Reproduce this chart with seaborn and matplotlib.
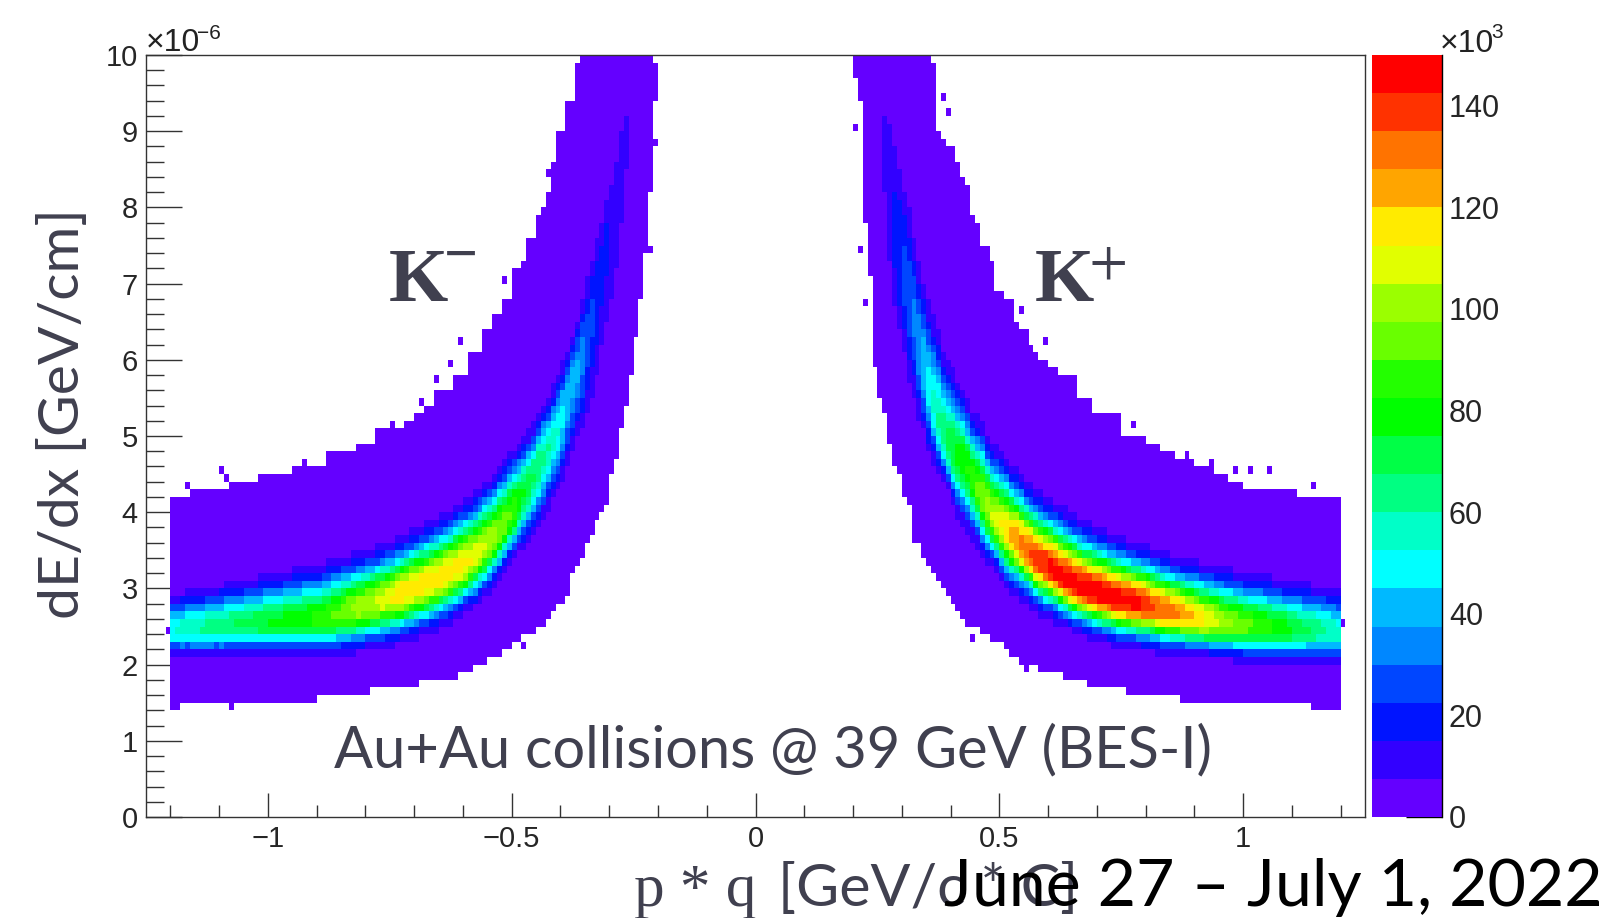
#!/usr/bin/env python3
# dE/dx vs p*q for kaons, histogram
import numpy as np
import seaborn as sns
import matplotlib
matplotlib.use('Agg')
import matplotlib.pyplot as plt
from matplotlib.colors import ListedColormap

W, H = 1613, 918

# 0.01 wide columns, |p*q| = 0.205 ... 1.195, values in 1e-6
left_env_top = [9.9] + [10.0]*15 + [9.9, 9.4, 9.4, 9.0, 9.0, 8.6, 8.2, 8.0, 7.9, 7.6, 7.6, 7.3, 7.2, 7.2, 6.8, 6.8, 6.6, 6.6, 6.4, 6.4, 6.1, 6.1, 6.1,
    5.8, 5.8, 5.8, 5.6, 5.6, 5.6, 5.6, 5.4, 5.4, 5.3, 5.3, 5.2, 5.2, 5.1, 5.1, 5.1, 5.1, 5.1, 5.1, 4.9, 4.9, 4.9, 4.9] + [4.8]*6 + [4.6]*7 + [4.5]*7 + [4.4]*5 + [4.3]*9 + [4.2]*4
left_env_bot = [9.4, 8.2, 7.4, 6.8, 6.3, 5.8, 5.4, 5.1, 4.7, 4.5, 4.1, 4.0, 3.9, 3.7, 3.6, 3.4, 3.3, 3.2, 2.9, 2.8, 2.8, 2.7, 2.6, 2.5, 2.5, 2.4, 2.4, 2.4, 2.3, 2.3, 2.2, 2.2,
    2.1, 2.1, 2.1, 2.0, 2.0, 2.0, 2.0, 1.9, 1.9] + [1.8]*8 + [1.7]*10 + [1.6]*11 + [1.5]*28 + [1.4]*2
right_env_top = [10.0]*16 + [9.9, 9.0, 8.9, 8.8, 8.8, 8.6, 8.4, 8.3, 7.9, 7.8, 7.5, 7.5, 7.3, 6.9, 6.9, 6.8, 6.8, 6.5, 6.4, 6.4, 6.2, 6.1, 6.0, 6.0, 5.9, 5.9,
    5.8, 5.8, 5.8, 5.8, 5.5, 5.5, 5.5] + [5.3]*6 + [5.0]*5 + [4.9]*3 + [4.8]*3 + [4.7]*4 + [4.6]*4 + [4.5]*3 + [4.4]*3 + [4.3]*11 + [4.2]*9
right_env_bot = [9.7, 9.4, 7.8, 7.1, 5.9, 5.5, 5.3, 4.9, 4.6, 4.5, 4.2, 4.1, 3.6, 3.6, 3.4, 3.3, 3.2, 3.1, 3.0, 2.9, 2.8, 2.7, 2.6, 2.5, 2.5, 2.5, 2.4, 2.4, 2.3, 2.3, 2.3, 2.2,
    2.1, 2.1] + [2.0]*4 + [1.9]*5 + [1.8]*5 + [1.7]*8 + [1.6]*11 + [1.5]*27 + [1.4]*6

# core of the band starts at |p*q| = 0.265, same 0.01 columns
left_ridge = [8.9, 8.7, 8.35, 8.05, 7.55, 7.2, 6.85, 6.6, 6.3, 6.08, 5.88, 5.72, 5.52, 5.28, 5.08, 4.95, 4.85, 4.72, 4.6, 4.48, 4.36, 4.24, 4.12, 4.02, 3.93, 3.84, 3.76, 3.69, 3.62, 3.55, 3.49, 3.43,
    3.38, 3.33, 3.29, 3.25, 3.21, 3.18, 3.15, 3.12, 3.09, 3.06, 3.04, 3.02, 2.99, 2.96, 2.93, 2.9, 2.88, 2.86, 2.84, 2.82, 2.8, 2.78, 2.76, 2.74, 2.72, 2.7, 2.68, 2.66, 2.65, 2.63, 2.62, 2.6,
    2.6, 2.59, 2.59, 2.58, 2.58, 2.57, 2.57, 2.56, 2.56, 2.55, 2.55, 2.54, 2.54, 2.53, 2.53, 2.52, 2.52, 2.51, 2.51, 2.5, 2.5, 2.49, 2.49, 2.48, 2.48, 2.47, 2.47, 2.46, 2.46, 2.45]
left_peak = [9, 10, 12, 14, 17, 19, 21, 24, 28, 34, 39, 41, 45, 49, 53, 57, 60, 63, 66, 68, 72, 76, 82, 87, 91, 94, 97, 100, 103, 106, 109, 111, 113, 115, 116, 117, 118, 118, 118, 118, 118, 118, 118, 118, 118, 118, 118,
    116, 113, 111, 109, 107, 105, 104, 103, 102, 100, 98, 95, 92, 90, 88, 87, 85, 84, 83, 82, 81, 80, 79, 78, 77, 76, 75, 74, 73, 72, 71, 70, 69, 68, 67, 66, 65, 64, 63, 62, 61, 60, 59, 57, 56, 54, 52]
left_band_top = [9.2, 9.0, 8.55, 8.3, 8.05, 7.85, 7.6, 7.3, 7.05, 6.75, 6.5, 6.33, 6.1, 5.95, 5.8, 5.65, 5.5, 5.42, 5.3, 5.15, 5.05, 5.0, 4.92, 4.85, 4.78, 4.7, 4.62, 4.52, 4.45, 4.4, 4.34, 4.28, 4.22, 4.18, 4.14, 4.09, 4.04, 4.0,
    3.97, 3.93, 3.9, 3.86, 3.82, 3.79, 3.75, 3.72, 3.69, 3.66, 3.63, 3.61, 3.58, 3.56, 3.53, 3.51, 3.49, 3.47, 3.46, 3.44, 3.43, 3.41, 3.39, 3.37, 3.34, 3.32, 3.31, 3.3, 3.28, 3.27, 3.25, 3.23, 3.22, 3.21, 3.2, 3.18, 3.17, 3.16, 3.14, 3.13, 3.12, 3.1,
    3.09, 3.07, 3.06, 3.04, 3.03, 3.01, 3.0, 2.98, 2.97, 2.96, 2.95, 2.94, 2.93, 2.92]
left_band_bot = [8.5, 7.8, 7.25, 6.85, 6.55, 6.2, 5.85, 5.52, 5.3, 5.08, 4.97, 4.8, 4.6, 4.45, 4.3, 4.17, 4.05, 3.92, 3.78, 3.67, 3.59, 3.52, 3.46, 3.38, 3.31, 3.21, 3.11, 3.02, 2.94, 2.87, 2.82, 2.76, 2.71, 2.67, 2.62, 2.58, 2.55, 2.51,
    2.47, 2.43, 2.41, 2.39, 2.37, 2.35, 2.33, 2.31, 2.29, 2.27, 2.25, 2.23, 2.21, 2.2, 2.19, 2.18, 2.17, 2.16, 2.15, 2.14, 2.13, 2.12, 2.11] + [2.1]*33
right_ridge = [8.7, 8.05, 7.6, 7.35, 7.1, 6.8, 6.5, 6.15, 5.85, 5.62, 5.4, 5.18, 5.02, 4.88, 4.78, 4.72, 4.65, 4.55, 4.43, 4.3, 4.18, 4.07, 3.95, 3.87, 3.82, 3.76, 3.7, 3.64, 3.56, 3.5, 3.44, 3.38, 3.34, 3.3, 3.27, 3.22, 3.17, 3.12, 3.08, 3.05, 3.02,
    2.99, 2.97, 2.95, 2.93, 2.91, 2.89, 2.87, 2.86, 2.84, 2.82, 2.81, 2.8, 2.78, 2.77, 2.75, 2.73, 2.71, 2.69, 2.68, 2.67, 2.65, 2.63, 2.62, 2.6, 2.59, 2.58, 2.57, 2.56, 2.55, 2.54, 2.53, 2.52, 2.51, 2.51, 2.5, 2.5, 2.49, 2.49, 2.48, 2.48,
    2.47, 2.47, 2.46, 2.46, 2.45, 2.45, 2.45, 2.44, 2.44, 2.43, 2.42, 2.41, 2.4]
right_peak = [9, 13, 18, 22, 26, 29, 32, 37, 44, 49, 54, 61, 67, 71, 75, 78, 81, 83, 86, 92, 97, 101, 105, 109, 113, 117, 122, 127, 130, 133, 136, 139, 141, 143, 145, 146, 146, 147, 147, 148, 148, 148, 148, 148, 148, 148, 148, 148, 148,
    147, 146, 146, 145, 143, 140, 137, 135, 134, 132, 131, 130, 127, 124, 121, 118, 116, 113, 110, 107, 104, 101, 99, 97, 95, 93, 91, 90, 88, 86, 84, 82, 80, 78, 76, 74, 72, 70, 68, 66, 64, 62, 60, 58, 56]
right_band_top = [9.25, 9.1, 8.8, 8.5, 8.2, 7.95, 7.6, 7.3, 7.05, 6.75, 6.55, 6.37, 6.05, 5.98, 5.89, 5.74, 5.62, 5.48, 5.33, 5.25, 5.18, 5.0, 4.9, 4.87, 4.8, 4.73, 4.64, 4.57, 4.51, 4.43, 4.37, 4.32, 4.26, 4.2, 4.16, 4.13, 4.09, 4.05, 4.02,
    3.98, 3.93, 3.89, 3.86, 3.83, 3.81, 3.78, 3.74, 3.71, 3.68, 3.66, 3.64, 3.62, 3.6, 3.58, 3.55, 3.53, 3.51, 3.49, 3.46, 3.44, 3.42, 3.4, 3.39, 3.37, 3.36, 3.34, 3.33, 3.31, 3.3, 3.28, 3.26, 3.25, 3.23, 3.22, 3.2, 3.19, 3.18, 3.17, 3.16, 3.15, 3.14,
    3.13, 3.11, 3.1, 3.09, 3.07, 3.06, 3.05, 3.04, 3.03, 3.02, 3.01, 3.0, 2.99]
right_band_bot = [8.2, 7.35, 6.75, 6.38, 6.05, 5.75, 5.5, 5.25, 5.05, 4.78, 4.62, 4.5, 4.43, 4.28, 4.07, 3.94, 3.85, 3.75, 3.64, 3.55, 3.42, 3.31, 3.27, 3.22, 3.07, 2.98, 2.92, 2.88, 2.85, 2.81, 2.75, 2.7, 2.65, 2.61, 2.58, 2.55, 2.52, 2.49, 2.46,
    2.43, 2.4, 2.38, 2.35, 2.33, 2.31, 2.29, 2.27, 2.25, 2.23, 2.22, 2.21, 2.2, 2.19, 2.18, 2.17, 2.16, 2.15, 2.13, 2.13, 2.12, 2.12, 2.11, 2.11, 2.1, 2.1, 2.09, 2.09, 2.08, 2.08, 2.07, 2.07, 2.06, 2.05, 2.05, 2.04, 2.04, 2.03] + [2.03]*17

# isolated low count cells outside the envelope
stray_p = [-0.607, -0.657, -0.688, -0.63, -0.517, -0.747, -0.208, -0.218, -0.429, -1.098, -1.087, -1.17, -1.077, -1.207, -0.48, -0.59, -1.076, -0.926, -0.878,
           0.983, 1.013, 1.053, 1.145, 0.882, 0.934, 0.773, 0.593, 0.543, 0.384, 0.392, 0.203, 0.213, 0.222, 0.442, 0.552, 1.205]
stray_y = [6.25, 5.75, 5.45, 5.95, 7.05, 5.15, 8.85, 7.45, 8.45, 4.55, 4.45, 4.35, 4.35, 2.45, 2.25, 1.95, 1.45, 4.65, 4.75,
           4.55, 4.55, 4.55, 4.35, 4.75, 4.65, 5.15, 6.25, 6.65, 9.45, 9.25, 9.05, 7.45, 6.75, 2.35, 1.95, 2.55]

level_rgb = [(100, 0, 255), (50, 0, 255), (0, 20, 255), (0, 70, 255), (0, 135, 255), (0, 185, 255), (0, 255, 255), (0, 255, 200), (0, 255, 130), (0, 255, 70),
             (0, 255, 0), (35, 255, 0), (105, 255, 0), (155, 255, 0), (225, 255, 0), (255, 235, 0), (255, 165, 0), (255, 115, 0), (255, 50, 0), (255, 0, 0)]

x_major = [-1, -0.5, 0, 0.5, 1]
x_labels = ['\u22121', '\u22120.5', '0', '0.5', '1']
y_major = [0, 1, 2, 3, 4, 5, 6, 7, 8, 9, 10]
cbar_ticks = [0, 20, 40, 60, 80, 100, 120, 140]

TXT = '#40404f'
FRAME = '#333333'


def fill_side(grid, sign, env_top, env_bot, ridge, peak, band_top, band_bot):
    assert len(env_top) == 100 and len(env_bot) == 100
    assert len(ridge) == 94 and len(peak) == 94 and len(band_top) == 94 and len(band_bot) == 94
    y_low = np.arange(100)*0.1
    for k in range(100):
        col = 145 + k if sign > 0 else 104 - k
        inside = (y_low >= env_bot[k] - 1e-6) & (y_low + 0.1 <= env_top[k] + 1e-6)
        grid[inside, col] = 1
        if k < 6:
            continue
        b = k - 6
        # counts fall from the peak to the 7.5k edge read at band_top/band_bot
        centre = y_low + 0.05
        edge = np.where(centre > ridge[b], band_top[b] - ridge[b], ridge[b] - band_bot[b])
        counts = peak[b]*(7.5/peak[b])**(np.abs(centre - ridge[b])/edge)**2.2
        grid[inside, col] = np.maximum(1, counts[inside])


sns.set_style('ticks')
plt.rcParams['font.family'] = ['Liberation Sans', 'DejaVu Sans']

grid = np.zeros((100, 250))
fill_side(grid, -1, left_env_top, left_env_bot, left_ridge, left_peak, left_band_top, left_band_bot)
fill_side(grid, 1, right_env_top, right_env_bot, right_ridge, right_peak, right_band_top, right_band_bot)
for p, y in zip(stray_p, stray_y):
    grid[int(y*10), int((p + 1.25)*100)] = 1

fig = plt.figure(figsize=(W/100, H/100), dpi=100)
ax = fig.add_axes([146/W, 1 - 817/H, (1365 - 146)/W, (817 - 55)/H])
cax = fig.add_axes([1372/W, 1 - 817/H, (1442 - 1372)/W, (817 - 55)/H])

cmap = ListedColormap([(r/255, g/255, b/255) for r, g, b in level_rgb])
sns.heatmap(grid[::-1], mask=(grid[::-1] == 0), cmap=cmap, vmin=0, vmax=150, ax=ax, cbar_ax=cax,
            cbar_kws={'ticks': cbar_ticks}, xticklabels=False, yticklabels=False)

ax.set_xlim(0, 250)
ax.set_ylim(100, 0)
ax.set_xticks([(p + 1.25)*100 for p in x_major])
ax.set_xticklabels(x_labels)
ax.set_xticks(np.arange(5, 250, 10), minor=True)
ax.set_yticks([(10 - y)*10 for y in y_major])
ax.set_yticklabels([str(y) for y in y_major])
ax.set_yticks(np.arange(0, 101, 2), minor=True)
ax.tick_params(axis='x', which='major', direction='in', length=17, width=1, color=FRAME, labelsize=21, pad=6, top=False)
ax.tick_params(axis='x', which='minor', direction='in', length=8.5, width=1, color=FRAME, top=False)
ax.tick_params(axis='y', which='major', direction='in', length=26, width=1, color=FRAME, labelsize=21, pad=6, right=False)
ax.tick_params(axis='y', which='minor', direction='in', length=13, width=1, color=FRAME, right=False)
for s in ax.spines.values():
    s.set_visible(True)
    s.set_linewidth(1)
    s.set_color(FRAME)

cbar = ax.collections[0].colorbar
cbar.outline.set_visible(False)
cax.spines['right'].set_visible(True)
cax.spines['right'].set_linewidth(1)
cax.spines['right'].set_color('black')
cax.spines['bottom'].set_visible(False)
cax.tick_params(direction='in', length=26, width=1, color='black', labelsize=22, pad=5, right=True, left=False)
cax.set_yticklabels([str(t) for t in cbar_ticks])


def px_text(x, y, s, **kw):
    return fig.text(x/W, 1 - y/H, s, **kw)


px_text(146, 51, '\u00d710', fontsize=23, color='#222222', va='baseline')
px_text(197, 39, '\u22126', fontsize=15, color='#222222', va='baseline')
px_text(1440, 52, '\u00d710', fontsize=23, color='#222222', va='baseline')
px_text(1491, 38, '3', fontsize=15, color='#222222', va='baseline')

serif = 'Liberation Serif'
px_text(389, 301, 'K', fontsize=55, family=serif, weight='bold', color=TXT, va='baseline')
px_text(444, 273, '\u2212', fontsize=43, family=serif, weight='bold', color=TXT, va='baseline')
px_text(1035, 301, 'K', fontsize=55, family=serif, weight='bold', color=TXT, va='baseline')
px_text(1089, 287, '+', fontsize=50, family=serif, color=TXT, va='baseline')

px_text(334, 767, 'Au+Au collisions @ 39 GeV (BES-I)', fontsize=41.6, family='Lato', color=TXT, va='baseline')
px_text(64, 414, 'dE/dx [GeV/cm]', fontsize=41, family='Lato', color=TXT, rotation=90, ha='center', va='center')
px_text(634, 906, 'p * q', fontsize=44, family=serif, color=TXT, va='baseline')
px_text(778, 906, '[GeV/c * C]', fontsize=42.5, family='Lato', color=TXT, va='baseline')
px_text(944, 906, 'June 27 \u2013 July 1, 2022', fontsize=47.7, family='Lato', color='black', va='baseline')

fig.savefig('out.png', dpi=100)
